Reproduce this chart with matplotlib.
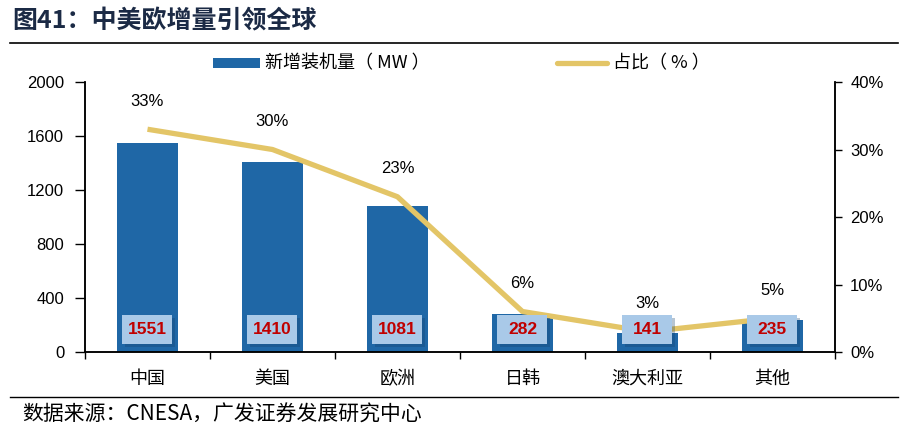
import matplotlib
matplotlib.use("Agg")
import matplotlib.pyplot as plt
from matplotlib.patches import Rectangle
from matplotlib.lines import Line2D
import matplotlib.patheffects as pe

categories = ["中国", "美国", "欧洲", "日韩", "澳大利亚", "其他"]
capacity_mw = [1551, 1410, 1081, 282, 141, 235]
share_pct = [33, 30, 23, 6, 3, 5]
left_ticks = [0, 400, 800, 1200, 1600, 2000]
right_ticks = [0, 10, 20, 30, 40]

CJK = ["Noto Sans CJK SC", "DejaVu Sans"]
NUM = ["Liberation Sans Narrow", "Liberation Sans", "DejaVu Sans"]
plt.rcParams["font.family"] = CJK

BAR = "#1F67A6"
GOLD = "#E3C567"
BOX = "#A9C9E8"
RED = "#C00000"

fig = plt.figure(figsize=(9.09, 4.38), dpi=100)
ax = fig.add_axes([0.0935, 0.1963, 0.825, 0.6165])
ax2 = ax.twinx()

x = list(range(len(categories)))
ax.bar(x, capacity_mw, width=0.49, color=BAR, zorder=2)
ax.set_xlim(-0.5, 5.5)
ax.set_ylim(0, 2000)
ax.set_yticks(left_ticks)
ax.set_yticklabels([str(v) for v in left_ticks], fontfamily=NUM, fontsize=12)
ax.set_xticks(x)
ax.set_xticklabels(categories, fontsize=13)
ax.set_xticks([i + 0.5 for i in range(-1, len(categories))], minor=True)
ax.tick_params(axis="x", which="major", length=0, pad=13)
ax.tick_params(axis="x", which="minor", length=5, width=1, direction="out")
ax.tick_params(axis="y", length=7, width=1, direction="out", pad=8)
for a in (ax, ax2):
    a.spines["top"].set_visible(False)
    for s in ["left", "right", "bottom"]:
        a.spines[s].set_linewidth(1.1)
        a.spines[s].set_color("black")

ax2.plot(x, share_pct, color=GOLD, linewidth=3.8, solid_capstyle="butt", zorder=2)
ax2.set_ylim(0, 40)
ax2.set_yticks(right_ticks)
ax2.set_yticklabels([f"{v}%" for v in right_ticks], fontfamily=NUM, fontsize=12)
ax2.tick_params(axis="y", length=5, width=1, direction="out", pad=6)

for xi, p in zip(x, share_pct):
    ax2.annotate(f"{p}%", (xi, p), xytext=(0, 20), textcoords="offset points",
                 ha="center", va="center", fontsize=12, fontfamily=NUM, zorder=5)

for xi, v in zip(x, capacity_mw):
    r = Rectangle((xi - 0.2, 59), 0.4, 215, transform=ax.transData,
                  facecolor=BOX, edgecolor="none", zorder=4,
                  path_effects=[pe.SimplePatchShadow(offset=(2, -2), shadow_rgbFace="#123F6A", alpha=0.3), pe.Normal()])
    ax2.add_patch(r)
    ax2.text(xi, 166, str(v), transform=ax.transData, ha="center", va="center",
             color=RED, fontsize=12.5, fontweight="bold", fontfamily=NUM, zorder=6)

# legend
fig.patches.append(Rectangle((213 / 909, 1 - 68 / 438), 47 / 909, 10 / 438,
                             transform=fig.transFigure, facecolor=BAR, edgecolor="none"))
fig.text(265 / 909, 1 - 63 / 438, "新增装机量（ MW ）", fontsize=13, va="center", ha="left")
fig.lines.append(Line2D([557 / 909, 607 / 909], [1 - 63 / 438, 1 - 63 / 438],
                        transform=fig.transFigure, color=GOLD, linewidth=3.8, solid_capstyle="round"))
fig.text(613 / 909, 1 - 63 / 438, "占比（ % ）", fontsize=13, va="center", ha="left")

# title and source
fig.text(12 / 909, 1 - 21 / 438, "图41：中美欧增量引领全球", fontsize=18, fontweight="bold",
         color="#1B2A45", va="center", ha="left")
fig.lines.append(Line2D([10 / 909, 898 / 909], [1 - 43 / 438, 1 - 43 / 438],
                        transform=fig.transFigure, color="black", linewidth=1.2))
fig.lines.append(Line2D([10 / 909, 898 / 909], [1 - 397 / 438, 1 - 397 / 438],
                        transform=fig.transFigure, color="black", linewidth=1.0))
fig.text(22 / 909, 1 - 415 / 438, "数据来源：CNESA，广发证券发展研究中心", fontsize=15,
         va="center", ha="left")

fig.savefig("out.png", dpi=100)
